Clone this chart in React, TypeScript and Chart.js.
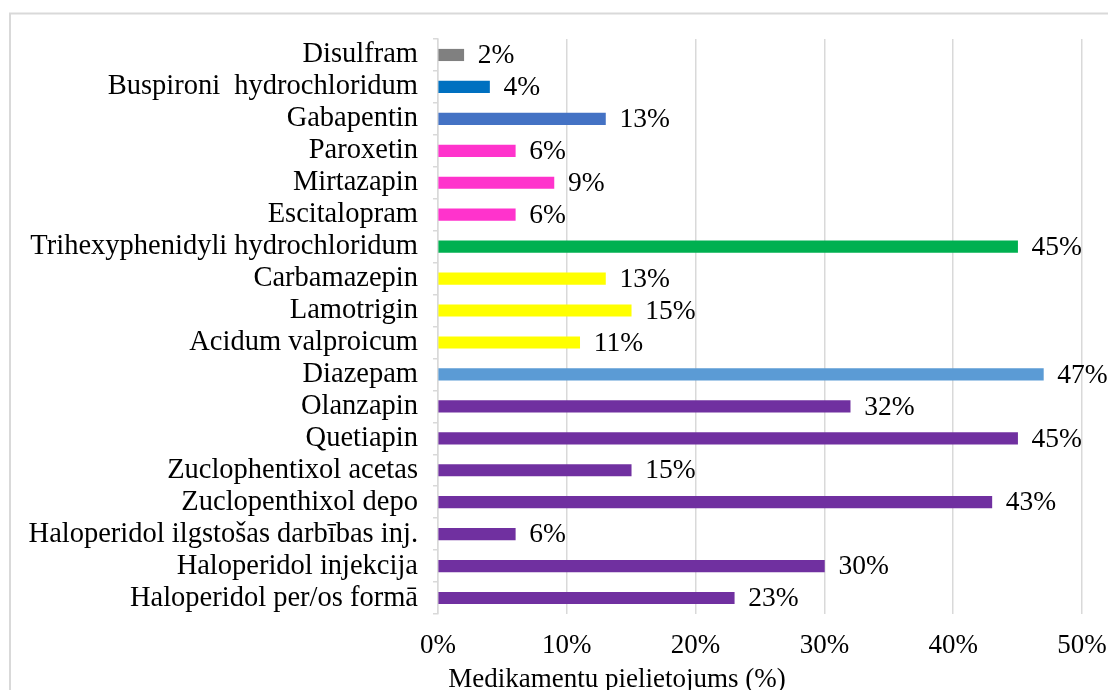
import React, { useEffect, useRef } from "react";
import { Chart, registerables } from "chart.js";

Chart.register(...registerables);

const categories = [
  "Disulfram",
  "Buspironi  hydrochloridum",
  "Gabapentin",
  "Paroxetin",
  "Mirtazapin",
  "Escitalopram",
  "Trihexyphenidyli hydrochloridum",
  "Carbamazepin",
  "Lamotrigin",
  "Acidum valproicum",
  "Diazepam",
  "Olanzapin",
  "Quetiapin",
  "Zuclophentixol acetas",
  "Zuclopenthixol depo",
  "Haloperidol ilgstošas darbības inj.",
  "Haloperidol injekcija",
  "Haloperidol per/os formā",
];

const usagePercent = [2, 4, 13, 6, 9, 6, 45, 13, 15, 11, 47, 32, 45, 15, 43, 6, 30, 23];

const barColors = [
  "#808080",
  "#0070C0",
  "#4472C4",
  "#FF33CC",
  "#FF33CC",
  "#FF33CC",
  "#00B050",
  "#FFFF00",
  "#FFFF00",
  "#FFFF00",
  "#5B9BD5",
  "#7030A0",
  "#7030A0",
  "#7030A0",
  "#7030A0",
  "#7030A0",
  "#7030A0",
  "#7030A0",
];

const xTickValues = [0, 10, 20, 30, 40, 50];
const xAxisTitle = "Medikamentu pielietojums (%)";

const FONT = "'Liberation Serif', 'Times New Roman', serif";
const GRID = "#d9d9d9";

const frameAndLabels = {
  id: "frameAndLabels",
  beforeDraw(chart: any) {
    const ctx = chart.ctx;
    ctx.save();
    ctx.fillStyle = "#ffffff";
    ctx.fillRect(0, 0, chart.width, chart.height);
    ctx.strokeStyle = GRID;
    ctx.lineWidth = 2;
    ctx.strokeRect(10, 13.5, 1300, 900);
    ctx.restore();
  },
  afterDatasetsDraw(chart: any) {
    const ctx = chart.ctx;
    const meta = chart.getDatasetMeta(0);
    ctx.save();
    ctx.font = `27.5px ${FONT}`;
    ctx.fillStyle = "#000000";
    ctx.textAlign = "left";
    ctx.textBaseline = "middle";
    meta.data.forEach((bar: any, i: number) => {
      ctx.fillText(`${usagePercent[i]}%`, bar.x + 14, bar.y + 1);
    });
    ctx.restore();
  },
  afterDraw(chart: any) {
    const ctx = chart.ctx;
    ctx.save();
    ctx.font = `27px ${FONT}`;
    ctx.fillStyle = "#000000";
    ctx.textAlign = "center";
    ctx.textBaseline = "middle";
    ctx.fillText(xAxisTitle, 617, 680);
    ctx.restore();
  },
};

export default function App() {
  const ref = useRef<HTMLCanvasElement | null>(null);

  useEffect(() => {
    if (!ref.current) return;
    const chart = new Chart(ref.current, {
      type: "bar",
      data: {
        labels: categories,
        datasets: [
          {
            data: usagePercent,
            backgroundColor: barColors,
            borderWidth: 0,
            barThickness: 11.5,
          },
        ],
      },
      plugins: [frameAndLabels],
      options: {
        indexAxis: "y",
        responsive: false,
        animation: false,
        layout: { padding: { top: 39, right: 26, left: 0, bottom: 0 } },
        plugins: {
          legend: { display: false },
          tooltip: { enabled: false },
        },
        scales: {
          x: {
            min: 0,
            max: 50,
            afterBuildTicks(scale: any) {
              scale.ticks = xTickValues.map((v) => ({ value: v }));
            },
            afterFit(scale: any) {
              scale.height = 86;
              scale.paddingRight = 0;
              scale.paddingLeft = 0;
            },
            grid: {
              color: GRID,
              lineWidth: 1.5,
              drawTicks: false,
            },
            border: { display: false },
            ticks: {
              padding: 16,
              color: "#000000",
              font: { family: FONT, size: 27 },
              callback: (v: any) => `${v}%`,
            },
            title: { display: false },
          },
          y: {
            afterFit(scale: any) {
              scale.width = 438;
              scale.paddingTop = 0;
              scale.paddingBottom = 0;
            },
            grid: {
              color: GRID,
              lineWidth: 1.5,
              drawOnChartArea: false,
              drawTicks: true,
              tickLength: 5,
              offset: true,
            },
            border: { display: true, color: GRID, width: 1.5 },
            ticks: {
              autoSkip: false,
              padding: 15,
              color: "#000000",
              font: { family: FONT, size: 28.5 },
            },
          },
        },
      },
    });
    return () => chart.destroy();
  }, []);

  return (
    <div
      style={{
        position: "fixed",
        left: 0,
        top: 0,
        width: 1108,
        height: 690,
        overflow: "hidden",
        background: "#fff",
      }}
    >
      <canvas ref={ref} width={1108} height={700} style={{ width: 1108, height: 700, display: "block" }} />
    </div>
  );
}
